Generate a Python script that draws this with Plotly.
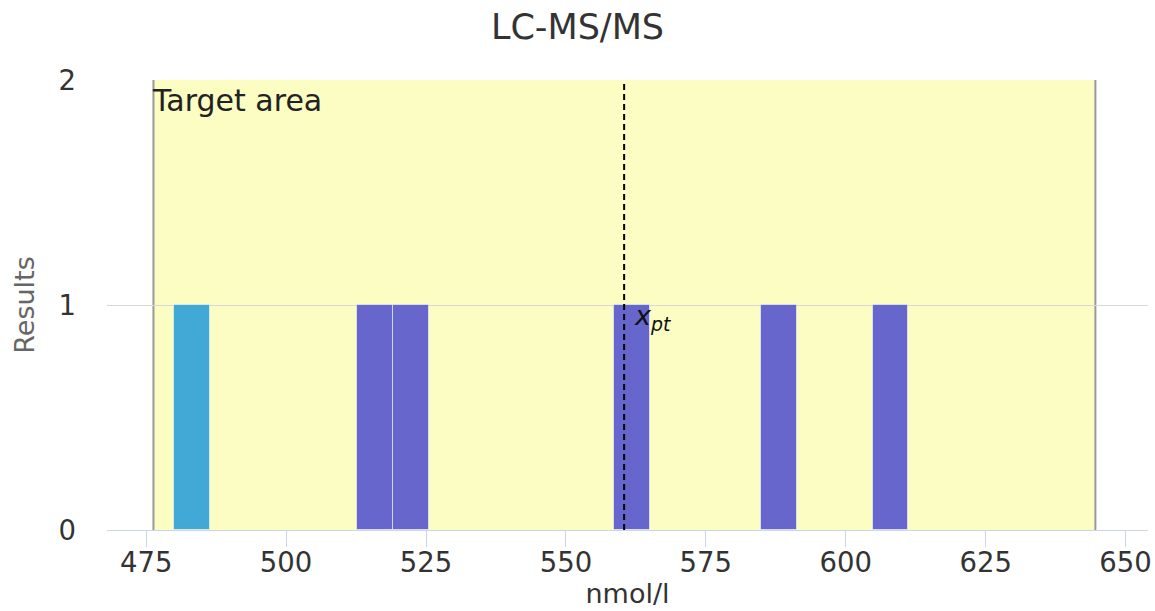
import plotly.graph_objects as go

# ---- data ----
TITLE = "LC-MS/MS"
X_TITLE = "nmol/l"
Y_TITLE = "Results"
TARGET_LABEL = "Target area"

# histogram bins (centre, width) and counts
other_bin_centers = [515.95, 522.3, 561.8, 588.1, 608.0]
other_counts = [1, 1, 1, 1, 1]
own_bin_centers = [483.15]
own_counts = [1]
bin_width = 6.4

x_pt = 560.4
target_low = 476.3
target_high = 644.6

x_tick_vals = [475, 500, 525, 550, 575, 600, 625, 650]
y_tick_vals = [0, 1, 2]
x_range = [468, 654]
y_range = [0, 2]

FONT = "DejaVu Sans"

fig = go.Figure()

fig.add_trace(go.Bar(
    x=other_bin_centers, y=other_counts, width=[bin_width] * len(other_bin_centers),
    marker=dict(color="#6666cc", line=dict(color="rgba(255,255,255,0.55)", width=1)),
    showlegend=False, hoverinfo="x+y",
))
fig.add_trace(go.Bar(
    x=own_bin_centers, y=own_counts, width=[bin_width] * len(own_bin_centers),
    marker=dict(color="#42a8d5", line=dict(color="rgba(255,255,255,0.55)", width=1)),
    showlegend=False, hoverinfo="x+y",
))

# target area band (below gridlines)
fig.add_shape(type="rect", xref="x", yref="y", x0=target_low, x1=target_high,
              y0=y_range[0], y1=y_range[1], fillcolor="#fbfdc3", line=dict(width=0),
              layer="below")
for xv in (target_low, target_high):
    fig.add_shape(type="line", xref="x", yref="y", x0=xv, x1=xv,
                  y0=y_range[0], y1=y_range[1], line=dict(color="#9a9a9a", width=2),
                  layer="below")

# x_pt dashed line
fig.add_shape(type="line", xref="x", yref="y", x0=x_pt, x1=x_pt,
              y0=y_range[0], y1=y_range[1], line=dict(color="#000000", width=2, dash="6px,4px"),
              layer="above")

fig.add_annotation(x=x_pt, y=1, xref="x", yref="y", text="<i>x</i><sub><i>pt</i></sub>",
                   showarrow=False, xanchor="left", yanchor="top", xshift=8, yshift=7,
                   font=dict(family=FONT, size=27, color="#111111"))
fig.add_annotation(x=target_low, y=y_range[1], xref="x", yref="y", text=TARGET_LABEL,
                   showarrow=False, xanchor="left", yanchor="top", xshift=-3, yshift=-1,
                   font=dict(family=FONT, size=30, color="#222222"))

fig.update_layout(
    width=1155, height=611,
    margin=dict(l=107, r=3, t=80, b=81),
    paper_bgcolor="#ffffff", plot_bgcolor="#ffffff",
    font=dict(family=FONT, color="#333333"),
    bargap=0,
    title=dict(text=TITLE, x=0.5, xanchor="center", y=1 - 27 / 611, yref="container",
               yanchor="middle", font=dict(family=FONT, size=35, color="#333333")),
    xaxis=dict(range=x_range, tickvals=x_tick_vals, ticktext=[str(v) for v in x_tick_vals],
               showgrid=False, zeroline=False, showline=True, linecolor="#ccd6eb", linewidth=1,
               ticks="outside", ticklen=16, tickcolor="#ccd6eb", tickwidth=1,
               ticklabelstandoff=-8, ticklabeloverflow="allow",
               tickfont=dict(family=FONT, size=27.5, color="#333333"),
               title=dict(text=X_TITLE, standoff=0, font=dict(family=FONT, size=27, color="#333333"))),
    yaxis=dict(range=y_range, tickvals=y_tick_vals, showgrid=True, gridcolor="#d8d8d8", gridwidth=1,
               zeroline=False, showline=False, ticks="", ticklabelstandoff=30,
               tickfont=dict(family=FONT, size=27.5, color="#333333"),
               title=dict(text=Y_TITLE, standoff=16, font=dict(family=FONT, size=27, color="#666666"))),
)

fig.write_html("out.html", config={"displayModeBar": False},
               post_script="document.body.style.margin='0';")
